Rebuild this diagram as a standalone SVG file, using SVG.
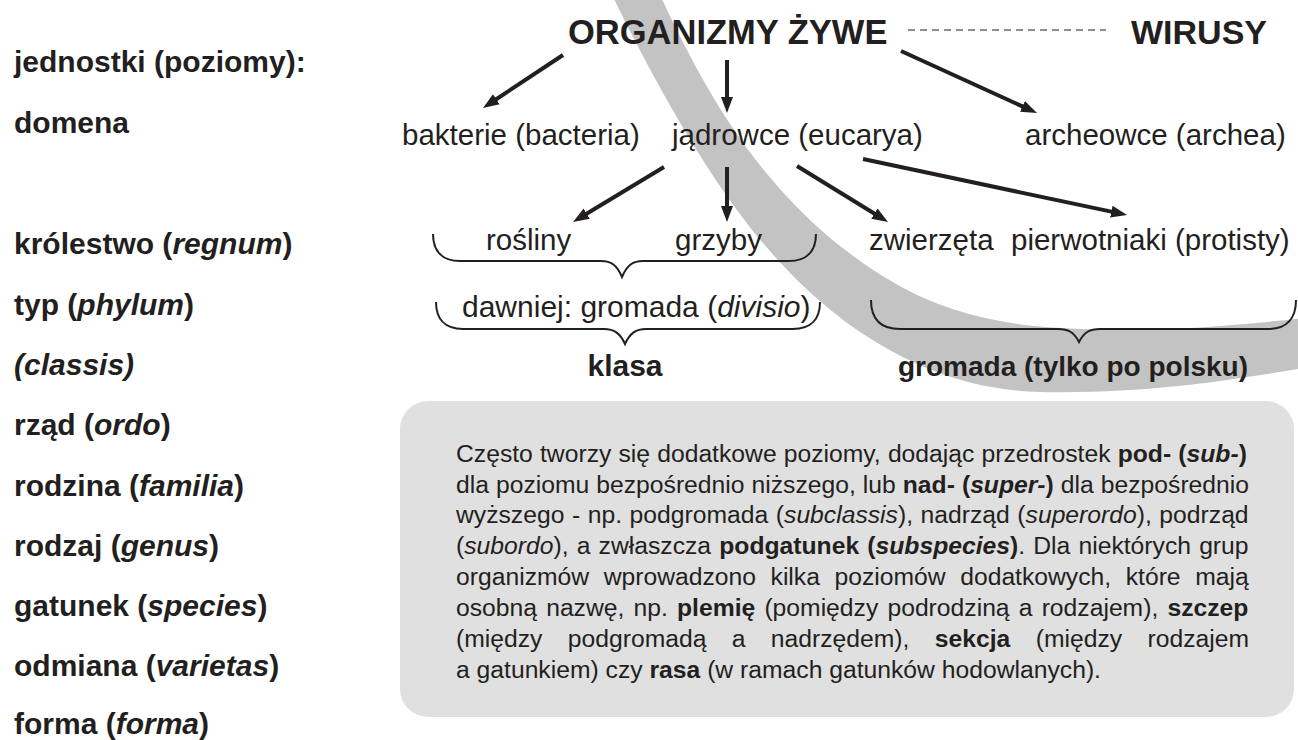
<svg xmlns="http://www.w3.org/2000/svg" width="1298" height="740" viewBox="0 0 1298 740">
<defs>
<style>
text{font-family:"Liberation Sans",Arial,sans-serif;fill:#231f20}
.lab{font-size:30px;font-weight:bold}
.reg{font-size:29.5px}
.top{font-size:34.5px;font-weight:bold}
.sub{font-size:30px;font-weight:bold}
.p{font-size:24.7px}
.b{font-weight:bold}
.i{font-style:italic}
.arrow{stroke:#231f20;stroke-width:4;fill:none;marker-end:url(#ah)}
.brace{stroke:#231f20;stroke-width:2;fill:none}
.dash{stroke:#231f20;stroke-width:1;stroke-dasharray:7 5;fill:none}
</style>
<marker id="ah" markerUnits="userSpaceOnUse" markerWidth="18" markerHeight="14" refX="6" refY="7" orient="auto"><path d="M0,1 L16,7 L0,13 Z" fill="#231f20"/></marker>
</defs>
<rect width="1298" height="740" fill="#ffffff"/>
<g id="band">
<path fill="#c3c3c3" d="M660,-5 C700,80 745,165 830,238 C900,295 960,322 1060,328 C1150,333 1230,326 1305,318 L1305,368 C1230,380 1150,394 1040,392 C960,390 900,360 850,325 C790,280 720,215 612,-5 Z"/>
</g>
<g id="levels">
<text id="l-jednostki" class="lab" x="14" y="72">jednostki (poziomy):</text>
<text id="l-domena" class="lab" x="14" y="133">domena</text>
<text id="l-krolestwo" class="lab" x="14" y="254">królestwo (<tspan class="i">regnum</tspan>)</text>
<text id="l-typ" class="lab" x="14" y="314.5">typ (<tspan class="i">phylum</tspan>)</text>
<text id="l-classis" class="lab i" x="14" y="375">(classis)</text>
<text id="l-rzad" class="lab" x="14" y="435">rząd (<tspan class="i">ordo</tspan>)</text>
<text id="l-rodzina" class="lab" x="14" y="495.5">rodzina (<tspan class="i">familia</tspan>)</text>
<text id="l-rodzaj" class="lab" x="14" y="555.5">rodzaj (<tspan class="i">genus</tspan>)</text>
<text id="l-gatunek" class="lab" x="14" y="616">gatunek (<tspan class="i">species</tspan>)</text>
<text id="l-odmiana" class="lab" x="14" y="676">odmiana (<tspan class="i">varietas</tspan>)</text>
<text id="l-forma" class="lab" x="14" y="734">forma (<tspan class="i">forma</tspan>)</text>
</g>
<g id="n-organizmy"><text class="top" x="568" y="44">ORGANIZMY ŻYWE</text></g>
<g id="n-wirusy"><text class="top" x="1131" y="44" style="font-size:34px">WIRUSY</text></g>
<g id="n-bakterie"><text class="reg" x="402" y="145">bakterie (bacteria)</text></g>
<g id="n-jadrowce"><text class="reg" x="672" y="145">jądrowce (eucarya)</text></g>
<g id="n-archeowce"><text class="reg" x="1025" y="145">archeowce (archea)</text></g>
<g id="n-rosliny"><text class="reg" x="486" y="250">rośliny</text></g>
<g id="n-grzyby"><text class="reg" x="675" y="250">grzyby</text></g>
<g id="n-zwierzeta"><text class="reg" x="869" y="250">zwierzęta</text></g>
<g id="n-pierwotniaki"><text class="reg" x="1011" y="250">pierwotniaki (protisty)</text></g>
<g id="n-dawniej"><text class="reg" x="462" y="317" style="font-size:30px">dawniej: gromada (<tspan class="i">divisio</tspan>)</text></g>
<g id="n-klasa"><text class="sub" x="625" y="376" text-anchor="middle">klasa</text></g>
<g id="n-gromada"><text class="sub" x="1073" y="376" text-anchor="middle" style="font-size:28px">gromada (tylko po polsku)</text></g>
<g id="braces">
<path class="brace" d="M433,234 C433,251 442,261 460,261 L601,261 C611,261 617,265 622,277 C627,265 633,261 643,261 L789,261 C807,261 816,251 816,234"/>
<path class="brace" d="M436,302 C436,319 445,329 463,329 L604,329 C614,329 620,333 625,344 C630,333 636,329 646,329 L793,329 C811,329 820,319 820,302"/>
<path class="brace" d="M871,300 C871,318 880,329 900,329 L1058,329 C1068,329 1074,332 1079,342 C1084,332 1090,329 1100,329 L1268,329 C1287,329 1296,318 1296,300"/>
</g>
<g id="connectors">
<line class="dash" x1="908" y1="30" x2="1106" y2="30"/>
<line class="arrow" x1="563" y1="55" x2="491.3" y2="102.5"/>
<line class="arrow" x1="727" y1="60" x2="727" y2="103"/>
<line class="arrow" x1="901" y1="51" x2="1027.9" y2="108.9"/>
<line class="arrow" x1="664" y1="167" x2="581.6" y2="216.8"/>
<line class="arrow" x1="727" y1="167" x2="727" y2="212"/>
<line class="arrow" x1="797" y1="166" x2="879.5" y2="216.8"/>
<line class="arrow" x1="863" y1="159" x2="1117.2" y2="212.9"/>
</g>
<g id="note">
<rect x="400" y="401" width="894" height="316" rx="28" ry="28" fill="#e0e0e0"/>
<text class="p" x="456" y="462" style="word-spacing:0.3px">Często tworzy się dodatkowe poziomy, dodając przedrostek <tspan class="b">pod- (<tspan class="i">sub-</tspan>)</tspan></text>
<text class="p" x="456" y="492.5" style="word-spacing:0.15px">dla poziomu bezpośrednio niższego, lub <tspan class="b">nad- (<tspan class="i">super-</tspan>)</tspan> dla bezpośrednio</text>
<text class="p" x="456" y="523.3" style="word-spacing:0.7px">wyższego - np. podgromada (<tspan class="i">subclassis</tspan>), nadrząd (<tspan class="i">superordo</tspan>), podrząd</text>
<text class="p" x="456" y="554.3" style="word-spacing:1.3px">(<tspan class="i">subordo</tspan>), a zwłaszcza <tspan class="b">podgatunek (<tspan class="i">subspecies</tspan>)</tspan>. Dla niektórych grup</text>
<text class="p" x="456" y="585" style="word-spacing:7.7px">organizmów wprowadzono kilka poziomów dodatkowych, które mają</text>
<text class="p" x="456" y="616" style="word-spacing:2.3px">osobną nazwę, np. <tspan class="b">plemię</tspan> (pomiędzy podrodziną a rodzajem), <tspan class="b">szczep</tspan></text>
<text class="p" x="456" y="646.8" style="word-spacing:18.5px">(między podgromadą a nadrzędem), <tspan class="b">sekcja</tspan> (między rodzajem</text>
<text class="p" x="456" y="677.7">a gatunkiem) czy <tspan class="b">rasa</tspan> (w ramach gatunków hodowlanych).</text>
</g>
</svg>
